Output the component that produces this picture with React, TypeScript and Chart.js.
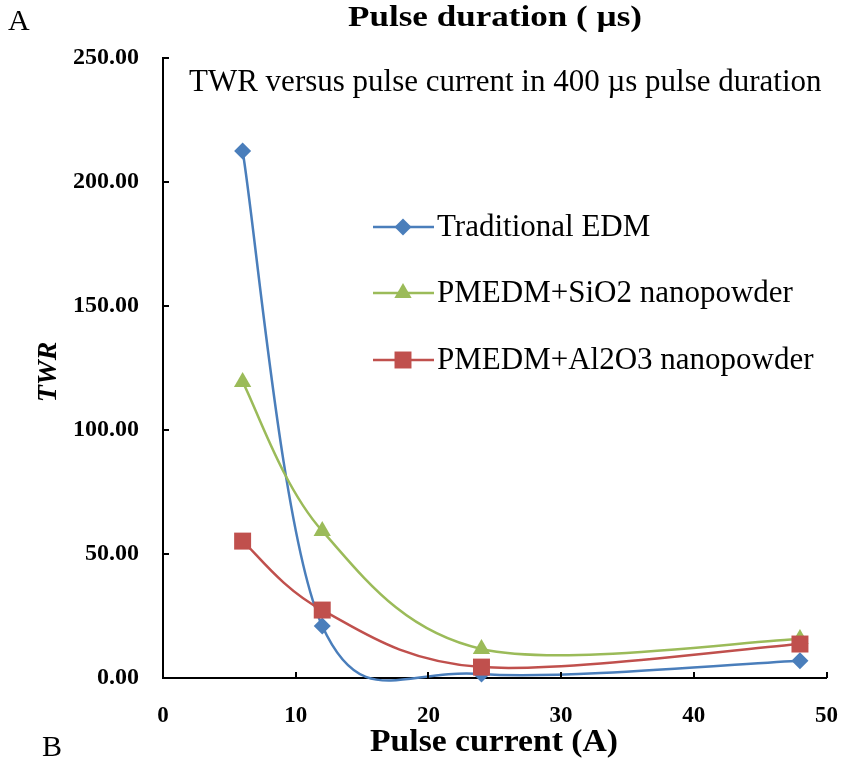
import React, { useEffect, useRef } from "react";
import { Chart, registerables } from "chart.js";

Chart.register(...registerables);

// ---- data ----
const xValues = [6, 12, 24, 48];
const traditionalEDM = [212.5, 21, 1.6, 7];
const sio2Powder = [119.4, 59.3, 11.7, 15.7];
const al2o3Powder = [55.2, 27.4, 4.4, 13.7];
const seriesNames = ["Traditional EDM", "PMEDM+SiO2 nanopowder", "PMEDM+Al2O3 nanopowder"];
const seriesColors = ["#4A7EBB", "#9BBB59", "#C0504D"];
const xTickValues = [0, 10, 20, 30, 40, 50];
const yTickValues = [0, 50, 100, 150, 200, 250];
const chartTitle = "Pulse duration ( µs)";
const annotationText = "TWR versus pulse current in 400 µs pulse duration";
const xTitle = "Pulse current (A)";
const yTitle = "TWR";
const panelTopLabel = "A";
const panelBottomLabel = "B";

const SERIF = '"Liberation Serif", "Times New Roman", serif';

const toPoints = (ys: number[]) => ys.map((y, i) => ({ x: xValues[i], y }));

function drawMarker(ctx: CanvasRenderingContext2D, style: string, r: number, x: number, y: number, color: string) {
  ctx.save();
  ctx.fillStyle = color;
  ctx.beginPath();
  if (style === "rectRot") {
    ctx.moveTo(x, y - r);
    ctx.lineTo(x + r, y);
    ctx.lineTo(x, y + r);
    ctx.lineTo(x - r, y);
  } else if (style === "triangle") {
    const w = r * Math.cos(Math.PI / 6);
    ctx.moveTo(x, y - r);
    ctx.lineTo(x + w, y + r / 2);
    ctx.lineTo(x - w, y + r / 2);
  } else {
    const s = r * Math.SQRT1_2;
    ctx.rect(x - s, y - s, 2 * s, 2 * s);
  }
  ctx.closePath();
  ctx.fill();
  ctx.restore();
}

// draw centred text stretched horizontally to a target width
function fillTextWidth(ctx: CanvasRenderingContext2D, text: string, cx: number, y: number, width: number) {
  const w = ctx.measureText(text).width;
  const sx = width / w;
  ctx.save();
  ctx.translate(cx, y);
  ctx.scale(sx, 1);
  ctx.textAlign = "center";
  ctx.fillText(text, 0, 0);
  ctx.restore();
}

// Excel-like smoothing: bezier control points = P +/- (Pnext - Pprev) / 6 in pixel space
const excelSmoothPlugin = {
  id: "excelSmooth",
  beforeDatasetDraw(chart: any, args: any) {
    const meta = args.meta;
    const line = meta.dataset;
    if (!line) return;
    line.updateControlPoints(chart.chartArea, "x");
    const pts = meta.data;
    const n = pts.length;
    for (let i = 0; i < n; i++) {
      const p = pts[i];
      const prev = pts[Math.max(0, i - 1)];
      const next = pts[Math.min(n - 1, i + 1)];
      const dx = (next.x - prev.x) / 6;
      const dy = (next.y - prev.y) / 6;
      p.cp1x = p.x - dx;
      p.cp1y = p.y - dy;
      p.cp2x = p.x + dx;
      p.cp2y = p.y + dy;
    }
    delete line._path;
  },
};

const overlayPlugin = {
  id: "overlay",
  afterDraw(chart: any) {
    const ctx = chart.ctx as CanvasRenderingContext2D;
    const xs = chart.scales.x;
    const ys = chart.scales.y;
    const area = chart.chartArea;
    ctx.save();
    // inward tick marks
    ctx.strokeStyle = "#000";
    ctx.lineWidth = 2;
    ctx.beginPath();
    xTickValues.forEach((v) => {
      if (v === 0) return;
      const px = Math.round(xs.getPixelForValue(v));
      ctx.moveTo(px, area.bottom);
      ctx.lineTo(px, area.bottom - 6);
    });
    yTickValues.forEach((v) => {
      if (v === 0) return;
      const py = Math.round(ys.getPixelForValue(v));
      ctx.moveTo(area.left, py);
      ctx.lineTo(area.left + 6, py);
    });
    ctx.stroke();

    ctx.fillStyle = "#000";
    ctx.textBaseline = "alphabetic";
    // panel letters
    ctx.font = `30px ${SERIF}`;
    ctx.textAlign = "left";
    ctx.fillText(panelTopLabel, 8, 30);
    ctx.fillText(panelBottomLabel, 42, 756);
    // title
    ctx.font = `bold 30px ${SERIF}`;
    fillTextWidth(ctx, chartTitle, 495, 26, 294);
    // annotation
    ctx.font = `31px ${SERIF}`;
    ctx.textAlign = "left";
    ctx.fillText(annotationText, 189, 91);
    // axis titles
    ctx.font = `bold 32px ${SERIF}`;
    fillTextWidth(ctx, xTitle, 494, 751, 248);
    ctx.save();
    ctx.translate(49, 372);
    ctx.rotate(-Math.PI / 2);
    ctx.font = `italic bold 28px ${SERIF}`;
    ctx.textBaseline = "middle";
    ctx.textAlign = "center";
    ctx.fillText(yTitle, 0, 0);
    ctx.restore();

    // legend
    const legendY = [227, 293, 360];
    [0, 1, 2].forEach((i) => {
      const ds = chart.data.datasets[i];
      const y = legendY[i];
      ctx.strokeStyle = ds.borderColor;
      ctx.lineWidth = 2.5;
      ctx.beginPath();
      ctx.moveTo(373, y);
      ctx.lineTo(434, y);
      ctx.stroke();
      drawMarker(ctx, ds.pointStyle, ds.pointRadius, 403, y, ds.backgroundColor);
      ctx.fillStyle = "#000";
      ctx.font = `31px ${SERIF}`;
      ctx.textAlign = "left";
      ctx.textBaseline = "middle";
      ctx.fillText(ds.label, 437, y + 1);
    });
    ctx.restore();
  },
};

export default function App() {
  const canvasRef = useRef<HTMLCanvasElement | null>(null);

  useEffect(() => {
    const canvas = canvasRef.current;
    if (!canvas) return;
    const styles = ["rectRot", "triangle", "rect"];
    const radii = [8.5, 10, 12];
    const drawOrder = [3, 2, 1];
    const seriesData = [traditionalEDM, sio2Powder, al2o3Powder];
    const chart = new Chart(canvas, {
      type: "scatter",
      data: {
        datasets: seriesData.map((ys, i) => ({
          label: seriesNames[i],
          data: toPoints(ys),
          showLine: true,
          borderColor: seriesColors[i],
          backgroundColor: seriesColors[i],
          borderWidth: 2.5,
          tension: 0.4,
          pointStyle: styles[i],
          pointRadius: radii[i],
          pointHoverRadius: radii[i],
          pointBorderWidth: 0,
          order: drawOrder[i],
          clip: false,
        })),
      },
      options: {
        responsive: false,
        animation: false,
        devicePixelRatio: 1,
        layout: { padding: { top: 58, right: 24, left: 0, bottom: 0 } },
        plugins: {
          legend: { display: false },
          title: { display: false },
          tooltip: { enabled: false },
        },
        scales: {
          x: {
            type: "linear",
            min: 0,
            max: 50,
            afterFit: (s: any) => {
              s.height = 82;
            },
            afterBuildTicks: (s: any) => {
              s.ticks = xTickValues.map((v) => ({ value: v }));
            },
            ticks: {
              padding: 24,
              color: "#000",
              font: { family: SERIF, size: 23, weight: "bold" },
              maxRotation: 0,
            },
            grid: { drawOnChartArea: false, drawTicks: false },
            border: { color: "#000", width: 2 },
          },
          y: {
            type: "linear",
            min: 0,
            max: 250,
            afterFit: (s: any) => {
              s.width = 163;
            },
            afterBuildTicks: (s: any) => {
              s.ticks = yTickValues.map((v) => ({ value: v }));
            },
            ticks: {
              padding: 24,
              color: "#000",
              font: { family: SERIF, size: 24, weight: "bold" },
              callback: (v: any) => Number(v).toFixed(2),
            },
            grid: { drawOnChartArea: false, drawTicks: false },
            border: { color: "#000", width: 2 },
          },
        },
      },
      plugins: [excelSmoothPlugin, overlayPlugin],
    });
    return () => chart.destroy();
  }, []);

  return (
    <div style={{ position: "absolute", left: 0, top: 0, width: 862, height: 760, background: "#fff" }}>
      <canvas ref={canvasRef} width={862} height={760} style={{ width: 862, height: 760 }} />
    </div>
  );
}
